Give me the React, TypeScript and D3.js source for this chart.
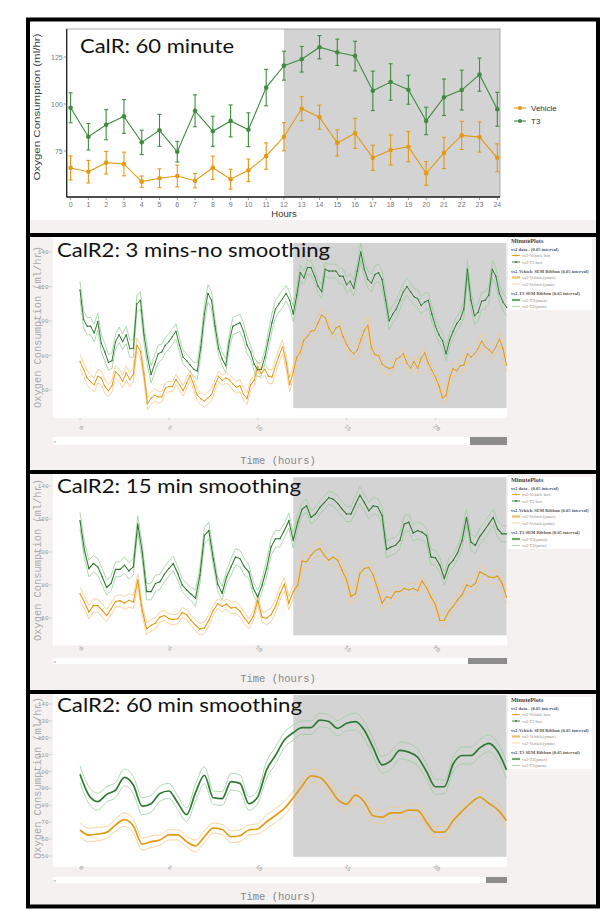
import React from "react";
import * as d3 from "d3";

// ---------- Panel 1: CalR 60 minute (hourly means ± SEM) ----------
const hourCats = [0,1,2,3,4,5,6,7,8,9,10,11,12,13,14,15,16,17,18,19,20,21,22,23,24];
const vehicle60 = [66,64,68.8,68.1,58.7,60.5,61.7,59.2,66.1,60,64.7,72.3,82.6,97.5,93,79.3,84.4,71.4,75.5,77.3,63.1,74,83.3,82.4,71.4];
const vehicle60Err = [6.4,6,6,6.3,3,5,5.8,3.8,6.2,5.3,6,7,7.5,6.4,6.4,7,8,6.7,8,8,6.3,8.3,7.5,8,7.4];
const t3Hourly = [98,82.6,89,93.4,79.6,86,74.6,96.4,85.5,91,86.3,108.7,120.4,123.8,130.2,127.5,125.5,107,111.7,107.6,91,103.6,107.4,115.6,97.2];
const t3HourlyErr = [8,7,8,9,6.5,8.5,5.5,8.5,8,8.5,9,9.7,7.7,6.8,6.2,7,7.9,10.5,9.7,7.7,7.3,9.7,10.6,8.8,9];
const yTicks1 = [75, 100, 125];

// ---------- CalR2: 3 mins, no smoothing (sampled every 0.2 h) ----------
const step3min = 0.2;
const t3Raw = [
  118,101,97,97,93,99.7,87,82,76,77,
  88,92,88,92,84,84,110,112,92,79,
  69,75,81,82,86,88,91,94,86,79,
  77,74.5,72,71,85,104,116,112,97,84,
  78,74,88,97,98,99,94,86,82,75,
  71.6,72,79,89,99,107,110,113,116,112,
  104,115,128,125,131,131,126,120,117,130,
  129,129,129,126,126,121,123,119,129,140,
  130,124,122,127,128,124,112,100,104,107,
  112,117,120,117,114,113,109,111,112,104,
  97,92,88.5,81,89,94,98.5,101,107,130,
  112,103,105,111.5,112,115,130,126,116,111,
  108];
const vehRaw = [
  76.5,72,67,64.8,63,68,67,62,59.5,62.5,
  70.6,68.5,65,70,66,69,86,82.5,68.7,52,
  55.2,57,56,56,61,62,62,66,63,59.5,
  64,68.5,63,57,55,53.5,55.5,57.3,63,68,
  65.5,67,66,63.5,61.5,62.5,57.5,55,63,65.5,
  73.6,69.5,72,68,67.5,74,80,85,76,63,
  70.6,79,82,89,91,94,94.5,99,103.5,102,
  96,92.5,96,97,91,86.5,83,81,83,89,
  94.5,97.5,84.5,80.5,80,75,73.5,72.5,73,78,
  79,81,75.5,72.8,76.4,72.6,78.5,81.5,75.5,71.5,
  67.5,62.5,55.5,57,67,72.5,71,74,74.5,81,
  79,81,84,88.3,85,83.5,81.5,85,89.5,84,
  74.5];

// ---------- CalR2: 15 min smoothing (every 0.25 h) ----------
const step15min = 0.25;
const t3Smooth15 = [
  119,101,90,93,91,85,78.5,81,89.5,89.5,
  92,88.5,91,117,100,76,76,81,82,86.5,
  90,93,87,80,77,74.5,72,86,110,113,
  96,80.5,75,85,91,97,96,91,88,78,
  72.7,80,90,103,108,108,113,119,107,118,
  126,128,121,123,127,130,133,132,129.5,126,
  123,123,129,134.5,130,125,128,127.5,122,101.5,
  103,104,107,117,118,111.5,113,112,110,97,
  96.5,92,84,92,95,99.5,107,121,106,104,
  109.5,113,117,121,114,111,111];
const vehSmooth15 = [
  74.7,69.5,63.6,67.5,67.5,64.6,61.5,65.5,70,70.5,
  69,70.7,69.7,83,64.6,53.5,55.5,57,60.6,61.5,
  59.6,59,59.5,63.3,62,58.6,55.6,53.3,54,58.6,
  64.6,68.7,67,68.5,66,66.5,64.2,60,56.6,61,
  70.7,60.5,59.8,62,67,74.7,80.5,69,76,80,
  94.5,94,98,101,102,98,95,97,95,89,
  83,73,74.7,87,90,90.7,86,77.5,69,73,
  72,76,76,78,77,78,76.5,82.5,78.3,72.7,
  68,58.5,58.6,64,67,71,74,80,79,81,
  88,86.5,85,84.5,85.5,81,72.7];

// ---------- CalR2: 60 min smoothing (every 0.5 h) ----------
const step60min = 0.5;
const t3Smooth60 = [
  98.4,86,82.2,86.5,89,96.5,92,79.5,81,87,
  88.5,81.5,74.5,87.5,97.8,84.5,84,94,93,81,
  85,101,109.5,118.7,123,126,126,130.5,129.6,125.6,
  128.6,129.6,124.5,114,104,106.5,112.5,111.5,108.5,100,
  91,91,104.5,109.5,109.5,114,116.7,112,101];
const vehSmooth60 = [
  65.4,62.4,63,64,68.4,71.5,67.8,57,58.5,59.5,
  62.5,62.5,58.5,56,61.4,66.5,65.7,61.4,62,65.4,
  66,70.3,74,78.2,84.5,91.5,97.5,96.5,91,83.5,
  80.7,86,82,73.8,73,75.5,75.5,77.2,77,70,
  64.1,64.3,71,76.5,81.5,84.8,81.2,77.5,71];

// hourly SEM used for ribbons (ymax / ymin)
const semT3 = [5,5,4.5,5,5,4.5,4,5,4,5,4,5,4.5,4,4,4.5,5,5,5,5,4.5,4,5,5,5];
const semVeh = [4,4,3.5,4,3.5,3,3,3.5,3,3.5,3,4,4,4,4,4,4.5,4,3.5,3.5,3,3.5,4,4,4];

const xTicks2 = ["0", "5", "10", "15", "20"];
const legendLabels = [
  "vs2 data - (0.05 interval)",
  "vs2-Vehicle box",
  "vs2-T3 box",
  "vs2-Vehicle SEM Ribbon (0.05 interval)",
  "vs2-Vehicle(ymax)",
  "vs2-Vehicle(ymin)",
  "vs2-T3 SEM Ribbon (0.05 interval)",
  "vs2-T3(ymax)",
  "vs2-T3(ymin)",
];

const ORANGE = "#e39a14";
const GREEN1 = "#3f8c40";
const GREEN = "#2f7a33";
const LORANGE = "#f3c98c";
const LGREEN = "#9ccf9c";
const SHADE = "#d3d3d3";
const PANEL_BG = "#f5f1f1";
const MONO = "'Liberation Mono', 'DejaVu Sans Mono', monospace";
const SANS = "'Liberation Sans', Arial, sans-serif";
const TITLE = "Lato, 'Open Sans', sans-serif";
const SERIF = "'Liberation Serif', 'Times New Roman', serif";

function Panel1() {
  const x = d3.scaleLinear().domain([0, 24]).range([70.6, 497.3]);
  const y = d3.scaleLinear().domain([75, 125]).range([151, 57]);
  const p = { l: 66.7, r: 500, t: 29, b: 197 };
  const line = d3.line<number>().x((_, i) => x(hourCats[i])).y((d) => y(d));
  const series = [
    { v: vehicle60, e: vehicle60Err, c: ORANGE },
    { v: t3Hourly, e: t3HourlyErr, c: GREEN1 },
  ];
  return (
    <g>
      <rect x={30} y={21} width={566} height={212} fill="#fff" />
      <rect x={30} y={220} width={566} height={13} fill={PANEL_BG} />
      <rect x={x(12)} y={p.t} width={p.r - x(12)} height={p.b - p.t} fill={SHADE} />
      <rect x={p.l} y={p.t} width={p.r - p.l} height={p.b - p.t} fill="none" stroke="#999" strokeWidth={0.8} />
      <line x1={p.l} x2={p.l} y1={p.t} y2={p.b} stroke="#222" strokeWidth={1.3} />
      <line x1={p.l} x2={p.r} y1={p.b} y2={p.b} stroke="#222" strokeWidth={1.3} />
      {yTicks1.map((t) => (
        <g key={t}>
          <line x1={p.l - 3} x2={p.l} y1={y(t)} y2={y(t)} stroke="#555" strokeWidth={0.6} />
          <text x={p.l - 4} y={y(t) + 2.5} fontSize={7} fill="#777" textAnchor="end" fontFamily={SANS}>{t}</text>
        </g>
      ))}
      {hourCats.map((h) => (
        <g key={h}>
          <line x1={x(h)} x2={x(h)} y1={p.b} y2={p.b + 3} stroke="#555" strokeWidth={0.6} />
          <text x={x(h)} y={p.b + 10} fontSize={7} fill="#777" textAnchor="middle" fontFamily={SANS}>{h}</text>
        </g>
      ))}
      <text x={284} y={217} fontSize={9.5} fill="#333" textAnchor="middle" fontFamily={SANS}>Hours</text>
      <text transform="translate(40,107) rotate(-90)" fontSize={8.6} fill="#444" textAnchor="middle" fontFamily={SANS} textLength={147} lengthAdjust="spacingAndGlyphs">Oxygen Consumption (ml/hr)</text>
      {series.map((s, si) => (
        <g key={si}>
          <path d={line(s.v) || ""} fill="none" stroke={s.c} strokeWidth={1.1} />
          {s.v.map((v, i) => (
            <g key={i} stroke={s.c} strokeWidth={1.1}>
              <line x1={x(hourCats[i])} x2={x(hourCats[i])} y1={y(v - s.e[i])} y2={y(v + s.e[i])} />
              <line x1={x(hourCats[i]) - 2} x2={x(hourCats[i]) + 2} y1={y(v - s.e[i])} y2={y(v - s.e[i])} />
              <line x1={x(hourCats[i]) - 2} x2={x(hourCats[i]) + 2} y1={y(v + s.e[i])} y2={y(v + s.e[i])} />
              <circle cx={x(hourCats[i])} cy={y(v)} r={2.3} fill={s.c} stroke="none" />
            </g>
          ))}
        </g>
      ))}
      <text x={80} y={53.3} fontSize={20} fill="#111" fontFamily={TITLE} textLength={154} lengthAdjust="spacingAndGlyphs">CalR: 60 minute</text>
      {[{ c: ORANGE, label: "Vehicle", yy: 108 }, { c: GREEN1, label: "T3", yy: 121 }].map((l) => (
        <g key={l.label}>
          <line x1={514} x2={526} y1={l.yy} y2={l.yy} stroke={l.c} strokeWidth={1.1} />
          <circle cx={520} cy={l.yy} r={2} fill={l.c} />
          <text x={531} y={l.yy + 3} fontSize={8} fill="#333" fontFamily={SANS}>{l.label}</text>
        </g>
      ))}
    </g>
  );
}

type Cfg = {
  top: number; bottom: number; yDom: [number, number]; yRange: [number, number]; yTicks: number[];
  xTickY: number; sliderY: number; sliderH: number; handleX: number; timeY: number; yTitleY: number;
  legendTop: number; titleY: number; titleLen: number; title: string;
  t3: number[]; veh: number[]; step: number; smooth: boolean; markerR: number; lineW: number;
};

function CalR2Panel({ cfg }: { cfg: Cfg }) {
  const x = d3.scaleLinear().domain([0, 24]).range([80, 506.5]);
  const y = d3.scaleLinear().domain(cfg.yDom).range(cfg.yRange);
  const plotL = 53, plotR = 507;
  const curve = cfg.smooth ? d3.curveMonotoneX : d3.curveLinear;
  const mk = (vals: number[], sem: number[], sign: number) =>
    d3.line<number>().curve(curve)
      .x((_, i) => x(i * cfg.step))
      .y((d, i) => y(d + sign * sem[Math.round(i * cfg.step)]))(vals) || "";
  const series = [
    { v: cfg.veh, sem: semVeh, c: ORANGE, lc: LORANGE },
    { v: cfg.t3, sem: semT3, c: GREEN, lc: LGREEN },
  ];
  const ticks = [0, 5, 10, 15, 20];
  const lt = cfg.legendTop;
  const lrows = [
    { y: 7.5, head: true },
    { y: 14, sw: ORANGE, dot: true },
    { y: 20.5, sw: GREEN, dot: true },
    { y: 29.5, head: true },
    { y: 36, sw: "#eebd6a", w: 2.2 },
    { y: 42.5, sw: LORANGE, w: 0.8 },
    { y: 51.5, head: true },
    { y: 58.5, sw: "#6aaa6a", w: 2.2 },
    { y: 65, sw: LGREEN, w: 0.8 },
  ];
  const plotBottom = y(49.5) + 10;
  return (
    <g>
      <rect x={30} y={cfg.top} width={566} height={cfg.bottom - cfg.top} fill={PANEL_BG} />
      <rect x={plotL} y={cfg.top} width={plotR - plotL} height={plotBottom - cfg.top} fill="#fff" />
      <rect x={x(12)} y={y(145.3)} width={x(24) - x(12)} height={y(49.5) - y(145.3)} fill={SHADE} />
      {cfg.yTicks.map((t) => (
        <g key={t}>
          <line x1={49} x2={52} y1={y(t)} y2={y(t)} stroke="#bbb" strokeWidth={0.6} />
          <text x={48.5} y={y(t) + 2} fontSize={6} fill="#999" textAnchor="end" fontFamily={MONO}>{t}</text>
        </g>
      ))}
      {ticks.map((t, i) => (
        <g key={t}>
          <line x1={x(t)} x2={x(t)} y1={plotBottom} y2={plotBottom + 2} stroke="#bbb" strokeWidth={0.6} />
          <text transform={`translate(${x(t)},${cfg.xTickY}) rotate(45)`} fontSize={6} fill="#999" textAnchor="middle" fontFamily={MONO}>{xTicks2[i]}</text>
        </g>
      ))}
      {series.map((s, si) => (
        <g key={"r" + si}>
          <path d={mk(s.v, s.sem, 1)} fill="none" stroke={s.lc} strokeWidth={0.9} opacity={0.9} />
          <path d={mk(s.v, s.sem, -1)} fill="none" stroke={s.lc} strokeWidth={0.9} opacity={0.9} />
        </g>
      ))}
      {series.map((s, si) => (
        <g key={"m" + si}>
          <path d={mk(s.v, s.sem, 0)} fill="none" stroke={s.c} strokeWidth={cfg.lineW} />
          {s.v.map((v, i) => (
            <circle key={i} cx={x(i * cfg.step)} cy={y(v)} r={cfg.markerR} fill={s.c} />
          ))}
        </g>
      ))}
      {/* range slider */}
      <rect x={plotL} y={cfg.sliderY} width={plotR - plotL} height={cfg.sliderH} fill="#fff" />
      <rect x={cfg.handleX} y={cfg.sliderY} width={plotR - cfg.handleX} height={cfg.sliderH} fill="#8c8c8c" />
      <text x={53.5} y={cfg.sliderY + cfg.sliderH / 2 + 1.5} fontSize={4} fill="#999" fontFamily={MONO}>0</text>
      <text x={278} y={cfg.timeY} fontSize={10.5} fill="#888" textAnchor="middle" fontFamily={MONO}>Time (hours)</text>
      <text transform={`translate(41,${cfg.yTitleY}) rotate(-90)`} fontSize={10.3} fill="#aaa" textAnchor="middle" fontFamily={MONO} textLength={162} lengthAdjust="spacingAndGlyphs">Oxygen Consumption (ml/hr)</text>
      {/* legend */}
      <rect x={508} y={lt} width={84} height={72} fill="#fff" />
      <text x={511} y={lt + 5} fontSize={6.2} fontWeight="bold" fill="#444" fontFamily={SERIF}>MinutePlots</text>
      {lrows.map((r, i) => (
        <g key={i}>
          {r.head ? (
            <text x={511} y={lt + r.y + 5} fontSize={4.6} fontWeight="bold" fill="#555" fontFamily={SERIF}>{legendLabels[i]}</text>
          ) : (
            <g>
              <line x1={512} x2={520} y1={lt + r.y + 3.5} y2={lt + r.y + 3.5} stroke={r.sw} strokeWidth={r.w || 0.9} />
              {r.dot ? <circle cx={516} cy={lt + r.y + 3.5} r={0.9} fill={r.sw} /> : null}
              <text x={522} y={lt + r.y + 5} fontSize={4.4} fill="#888" fontFamily={SERIF}>{legendLabels[i]}</text>
            </g>
          )}
        </g>
      ))}
      <text x={57} y={cfg.titleY} fontSize={20} fill="#111" fontFamily={TITLE} textLength={cfg.titleLen} lengthAdjust="spacingAndGlyphs">{cfg.title}</text>
    </g>
  );
}

const panels: Cfg[] = [
  {
    top: 237, bottom: 471, yDom: [60, 140], yRange: [390, 252], yTicks: [60, 80, 100, 120, 140],
    xTickY: 429, sliderY: 437, sliderH: 8, handleX: 470, timeY: 464, yTitleY: 327,
    legendTop: 238, titleY: 256.7, titleLen: 273, title: "CalR2: 3 mins-no smoothing",
    t3: t3Raw, veh: vehRaw, step: step3min, smooth: false, markerR: 0.75, lineW: 1.0,
  },
  {
    top: 474, bottom: 690, yDom: [60, 140], yRange: [618, 486], yTicks: [60, 80, 100, 120, 140],
    xTickY: 650, sliderY: 658, sliderH: 6, handleX: 468, timeY: 682, yTitleY: 560,
    legendTop: 477, titleY: 492.7, titleLen: 244, title: "CalR2: 15 min smoothing",
    t3: t3Smooth15, veh: vehSmooth15, step: step15min, smooth: false, markerR: 0.7, lineW: 1.1,
  },
  {
    top: 694, bottom: 905, yDom: [50, 140], yRange: [856, 704], yTicks: [50, 60, 70, 80, 90, 100, 110, 120, 130, 140],
    xTickY: 869, sliderY: 877, sliderH: 6, handleX: 486, timeY: 900, yTitleY: 778,
    legendTop: 697, titleY: 711.7, titleLen: 245, title: "CalR2: 60 min smoothing",
    t3: t3Smooth60, veh: vehSmooth60, step: step60min, smooth: true, markerR: 0, lineW: 1.7,
  },
];

export default function App() {
  return (
    <svg width={615} height={921} style={{ position: "absolute", left: 0, top: 0, background: "#fff" }}>
      <rect x={0} y={0} width={615} height={921} fill="#fff" />
      <Panel1 />
      {panels.map((c, i) => (
        <CalR2Panel key={i} cfg={c} />
      ))}
      <line x1={28} x2={598} y1={235} y2={235} stroke="#000" strokeWidth={4} />
      <line x1={28} x2={598} y1={472} y2={472} stroke="#000" strokeWidth={4} />
      <line x1={28} x2={598} y1={692} y2={692} stroke="#000" strokeWidth={4} />
      <rect x={28} y={19.5} width={570} height={887} fill="none" stroke="#000" strokeWidth={4} />
    </svg>
  );
}
